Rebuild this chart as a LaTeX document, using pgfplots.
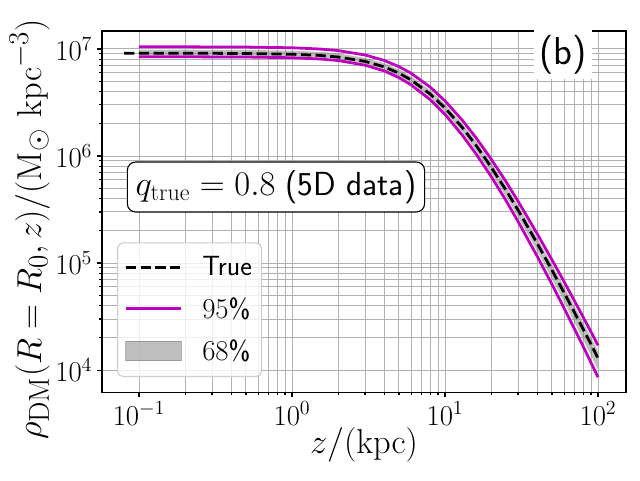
\documentclass[border=0pt]{standalone}
\usepackage{pgfplots}
\pgfplotsset{compat=1.18}
\usepackage{pgfplotstable}
\definecolor{mag}{rgb}{0.75,0,0.75}
\definecolor{gridgray}{HTML}{B0B0B0}

\pgfplotsset{
  lineleg/.style={legend image code/.code={\draw[##1] (0pt,0pt) -- (40pt,0pt);}},
  patchleg/.style={legend image code/.code={\filldraw[sharp corners, fill=gray, draw=gray, fill opacity=0.5, draw opacity=0.6, line width=0.8pt] (0pt,-7pt) rectangle (40pt,7pt);}},
}

\pgfplotstableread{
z rho
0.08 9.12e6
0.1 9.12e6
0.2 9.12e6
0.5 9.08e6
1 8.93e6
1.5 8.71e6
2 8.41e6
3 7.66e6
4 6.81e6
5 5.94e6
6 5.14e6
8 3.79e6
10 2.81e6
13 1.84e6
16 1.25e6
20 7.89e5
25 4.81e5
30 3.13e5
40 1.53e5
50 8.59e4
60 5.28e4
70 3.48e4
80 2.41e4
90 1.74e4
100 1.29e4
}\truedata

\pgfplotstableread{
z u95 l95
0.1 1.047e7 8.45e6
0.2 1.047e7 8.45e6
0.5 1.042e7 8.41e6
1 1.026e7 8.28e6
1.5 1.000e7 8.07e6
2 9.66e6 7.80e6
3 8.79e6 7.06e6
4 7.82e6 6.24e6
5 6.84e6 5.40e6
6 5.93e6 4.62e6
8 4.40e6 3.36e6
10 3.27e6 2.45e6
13 2.15e6 1.56e6
16 1.47e6 1.04e6
20 9.38e5 6.46e5
25 5.77e5 3.85e5
30 3.78e5 2.45e5
40 1.88e5 1.16e5
50 1.07e5 6.32e4
60 6.68e4 3.79e4
70 4.45e4 2.44e4
80 3.12e4 1.66e4
90 2.27e4 1.17e4
100 1.70e4 8.57e3
}\banddata

% 68% band: upper edge outward, lower edge back
\pgfplotstableread{
z b68
0.1 9.84e6
0.2 9.84e6
0.5 9.80e6
1 9.64e6
1.5 9.40e6
2 9.08e6
3 8.26e6
4 7.35e6
5 6.43e6
6 5.56e6
8 4.11e6
10 3.05e6
13 2.00e6
16 1.37e6
20 8.67e5
25 5.31e5
30 3.47e5
40 1.72e5
50 9.70e4
60 6.01e4
70 3.98e4
80 2.78e4
90 2.01e4
100 1.50e4
100 1.01e4
90 1.37e4
80 1.92e4
70 2.81e4
60 4.34e4
50 7.14e4
40 1.30e5
30 2.70e5
25 4.21e5
20 7.00e5
16 1.12e6
13 1.67e6
10 2.59e6
8 3.52e6
6 4.82e6
5 5.61e6
4 6.46e6
3 7.29e6
2 8.04e6
1.5 8.32e6
1 8.53e6
0.5 8.67e6
0.2 8.71e6
0.1 8.71e6
}\bandsixeight

\begin{document}
\begin{tikzpicture}
\path[use as bounding box] (-73.44pt,-63.36pt) rectangle (387.36pt,282.32pt);
\begin{axis}[
  at={(0,0)}, anchor=south west,
  scale only axis, width=377.3pt, height=260pt,
  xmode=log, ymode=log,
  xmin=0.0573, xmax=152.4, ymin=6223, ymax=1.472e7,
  xtick={0.1,1,10,100}, ytick={1e4,1e5,1e6,1e7},
  grid=both,
  major grid style={gridgray, line width=0.7pt},
  minor grid style={gridgray, line width=0.7pt},
  tick pos=left, tick align=outside,
  major tick length=3.5pt, minor tick length=2pt,
  every tick/.style={black, line width=0.8pt},
  axis line style={line width=0.8pt},
  tick label style={font=\fontsize{20}{24}\selectfont},
  xlabel={$z/(\mathrm{kpc})$},
  ylabel={$\rho_{\mathrm{DM}}(R=R_0,z)/(\mathrm{M}_\odot~\mathrm{kpc}^{-3})$},
  xlabel style={font=\fontsize{26}{31}\selectfont, at={(axis description cs:0.5,-0.146)}, anchor=center},
  ylabel style={font=\fontsize{27.5}{32}\selectfont, at={(axis description cs:-0.138,0.45)}, anchor=center},
  legend cell align=left,
  legend style={
    at={(rel axis cs:0.0286,0.0416)}, anchor=south west,
    draw=black!20, line width=0.8pt, rounded corners=4pt,
    fill=white, fill opacity=0.8, text opacity=1, draw opacity=1,
    font=\fontsize{20}{24}\selectfont\sffamily,
    inner xsep=5pt, inner ysep=8pt,
    row sep=10pt,
    /tikz/every odd column/.append style={column sep=12pt},
  },
]
\addplot[fill=gray, fill opacity=0.5, draw=none, forget plot] table[x=z, y=b68] {\bandsixeight} -- cycle;
\addplot[mag, line width=2pt, forget plot] table[x=z, y=u95] {\banddata};
\addplot[mag, line width=2pt, forget plot] table[x=z, y=l95] {\banddata};
\addplot[black, line width=2pt, dash pattern=on 7.4pt off 3.2pt, forget plot] table[x=z, y=rho] {\truedata};

\addlegendimage{black, line width=2pt, dash pattern=on 7.4pt off 3.2pt, lineleg}
\addlegendentry{True}
\addlegendimage{mag, line width=2pt, lineleg}
\addlegendentry{$95$\%}
\addlegendimage{patchleg}
\addlegendentry{$68$\%}

\node[draw=black, line width=0.8pt, rounded corners=6pt, fill=white, inner xsep=6pt, inner ysep=6pt, font=\fontsize{24}{28}\selectfont]
  at (rel axis cs:0.332,0.568) {$q_{\mathrm{true}}=0.8$ \textsf{(5D data)}};
\node[fill=white, inner sep=4pt, font=\fontsize{28}{32}\selectfont\sffamily] at (rel axis cs:0.880,0.935) {(b)};
\end{axis}
\end{tikzpicture}
\end{document}
